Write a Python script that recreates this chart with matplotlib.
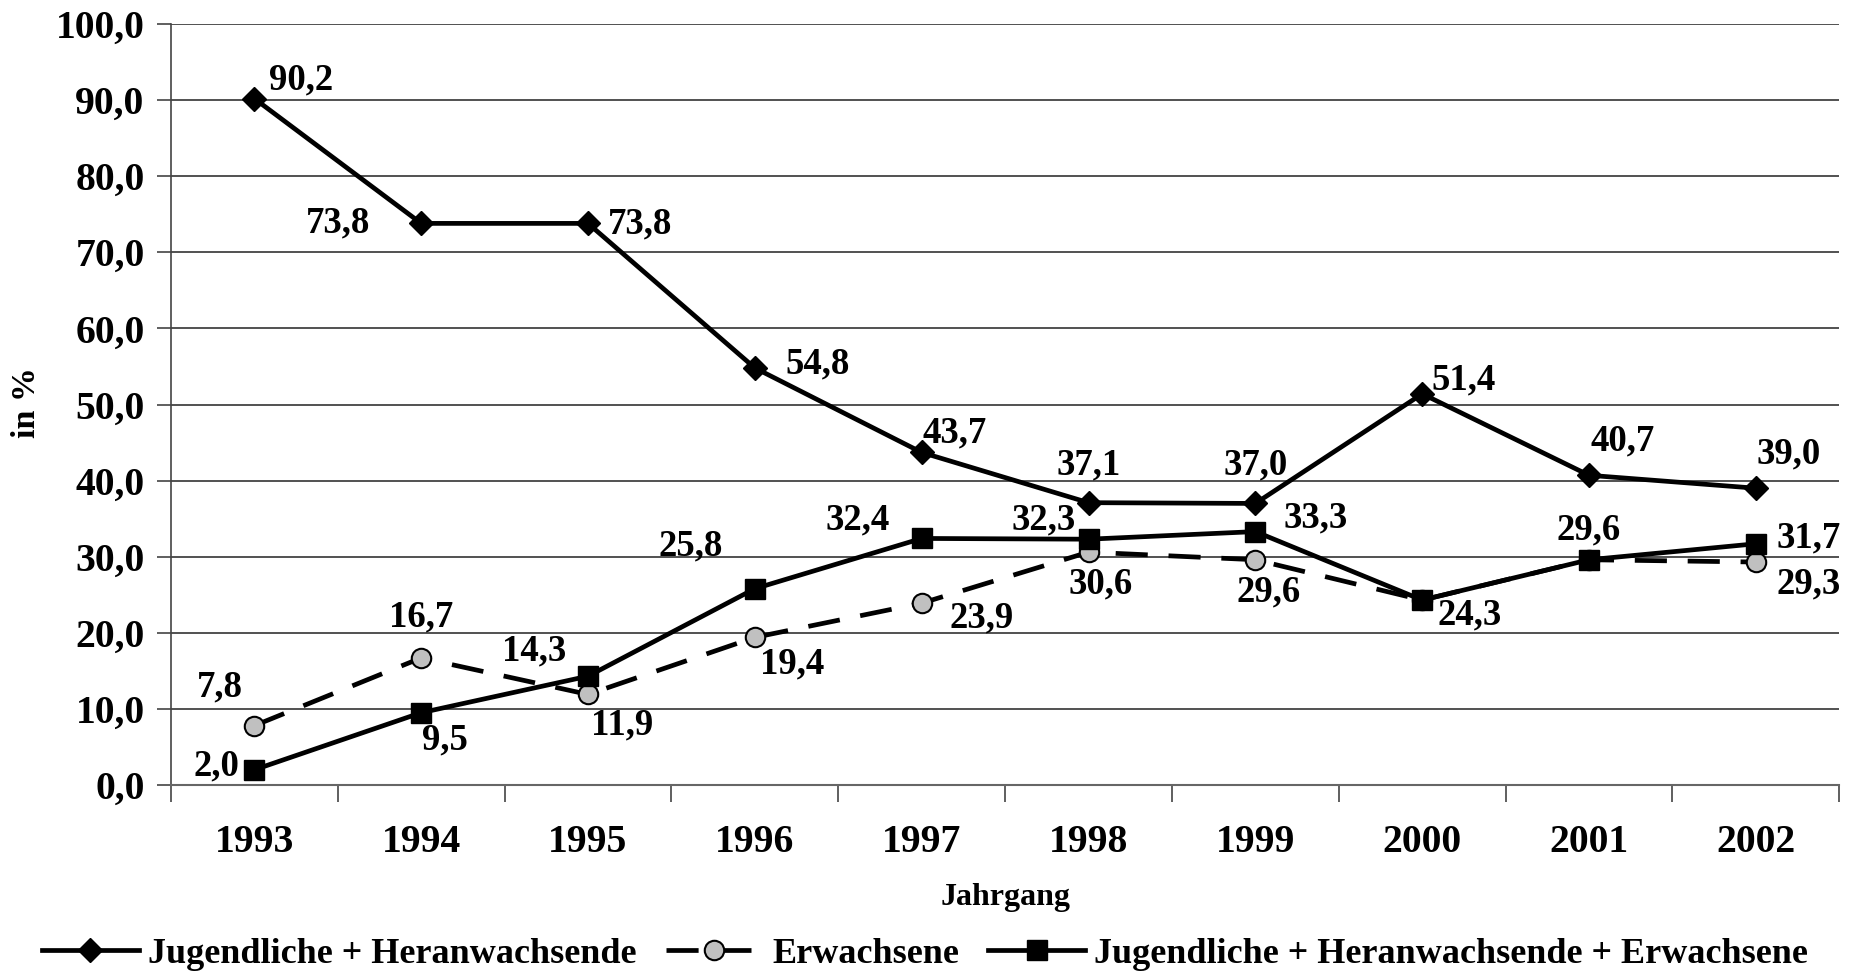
import matplotlib
matplotlib.use("Agg")
import matplotlib.pyplot as plt

# Jahrgaenge und Anteile in %
years = ["1993", "1994", "1995", "1996", "1997", "1998", "1999", "2000", "2001", "2002"]
jugend = [90.2, 73.8, 73.8, 54.8, 43.7, 37.1, 37.0, 51.4, 40.7, 39.0]
erwachsene = [7.8, 16.7, 11.9, 19.4, 23.9, 30.6, 29.6, 24.3, 29.6, 29.3]
gesamt = [2.0, 9.5, 14.3, 25.8, 32.4, 32.3, 33.3, 24.3, 29.6, 31.7]

# label offsets in pixels (None = label hidden by overlap)
off_jugend = [(47, 19), (-83, 0), (52, -1), (63, 4), (33, 19), (0, 38), (0, 38), (41, 14), (34, 34), (33, 34)]
off_erw = [(-34, 39), (0, 41), (34, -31), (37, -27), (60, -15), (12, -32), (13, -32), (47, -15), None, (53, -22)]
off_ges = [(-38, 4), (24, -27), (-54, 25), (-64, 43), (-64, 18), (-45, 19), (60, 14), None, (0, 30), (53, 6)]

plt.rcParams['font.family'] = ['Liberation Serif', 'DejaVu Serif']
plt.rcParams['font.weight'] = 'bold'

fig = plt.figure(figsize=(18.56, 9.76), dpi=100)
ax = fig.add_axes([0.0921, 0.1957, 0.8989, 0.7797])

x = list(range(len(years)))
ax.plot(x, jugend, color='black', lw=3.4, marker='D', ms=12, mfc='black', mec='black',
        label="Jugendliche + Heranwachsende", zorder=3)
ax.plot(x, erwachsene, color='black', lw=3.4, dashes=(6.8, 4.4), marker='o', ms=14,
        mfc='#c0c0c0', mec='black', mew=1.5, label="Erwachsene", zorder=4)
ax.plot(x, gesamt, color='black', lw=3.4, marker='s', ms=14, mfc='black', mec='black',
        label="Jugendliche + Heranwachsende + Erwachsene", zorder=5)


def put_labels(vals, offs):
    for i, (v, o) in enumerate(zip(vals, offs)):
        if o is None:
            continue
        ax.annotate(("%.1f" % v).replace(".", ","), (i, v), xytext=o,
                    textcoords='offset pixels', ha='center', va='center',
                    fontsize=26.5, fontweight='bold', zorder=6)


put_labels(jugend, off_jugend)
put_labels(erwachsene, off_erw)
put_labels(gesamt, off_ges)

ax.set_ylim(0, 100)
ax.set_xlim(-0.5, len(years) - 0.5)
ax.set_yticks(range(0, 101, 10))
ax.set_yticklabels([("%.1f" % t).replace(".", ",") for t in range(0, 101, 10)])
ax.yaxis.grid(True, color='#333333', lw=1.2)
ax.set_axisbelow(True)

ax.set_xticks([i - 0.5 for i in range(len(years) + 1)])
ax.set_xticklabels([])
ax.set_xticks(x, minor=True)
ax.set_xticklabels(years, minor=True)
ax.tick_params(axis='x', which='major', length=12, width=1.2, color='#444444')
ax.tick_params(axis='x', which='minor', length=0, pad=28, labelsize=28.5)
ax.tick_params(axis='y', length=10, width=1.2, pad=9, labelsize=28.5, color='#444444')

for s in ['top', 'right']:
    ax.spines[s].set_visible(False)
ax.spines['left'].set_color('#444444')
ax.spines['left'].set_linewidth(1.2)
ax.spines['bottom'].set_color('#666666')
ax.spines['bottom'].set_linewidth(1.5)

ax.set_xlabel("Jahrgang", fontsize=23, fontweight='bold', labelpad=16)
fig.text(27 / 1856, 1 - 403 / 976, "in %", rotation=90, ha='center', va='center',
         fontsize=24.5, fontweight='bold')

ax.legend(loc='center', bbox_to_anchor=(925 / 1856, 1 - 954 / 976),
          bbox_transform=fig.transFigure, ncol=3, frameon=False,
          fontsize=26, handlelength=2.7, handletextpad=0.25, columnspacing=0.8,
          borderaxespad=0, borderpad=0)

fig.savefig("out.png", dpi=100)
